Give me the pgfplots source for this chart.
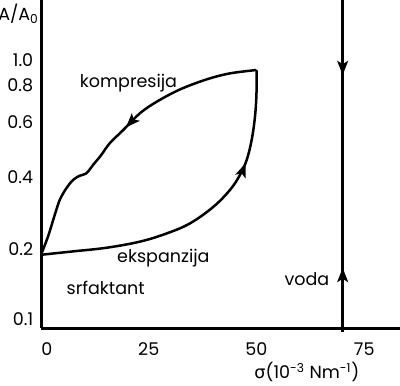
\documentclass[border=0pt]{standalone}
\usepackage{fontspec}
\setmainfont{Poppins}
\newfontfamily\greekfont{DejaVu Sans}
\usepackage{pgfplots}
\pgfplotsset{compat=1.18}
\usetikzlibrary{arrows.meta,decorations.markings}
\tikzset{myarr/.tip={Stealth[length=8.5pt,width=6.5pt,inset=2pt]}}
\begin{document}
\fontsize{10.5}{12}\selectfont
\begin{tikzpicture}
\begin{axis}[
  scale only axis, width=215.4pt, height=196.8pt,
  xmin=0, xmax=83.3, ymode=log, ymin=0.0923, ymax=1.705,
  axis x line=bottom, axis y line=left,
  axis line style={-, line width=1.8pt},
  xtick={0,25,50,75}, xticklabels={\hspace*{7pt}0,25,50,75},
  ytick={0.1,0.1864,0.3534,0.5763,0.8007,1.0},
  yticklabels={0.1,0.2,0.4,0.6,0.8,1.0},
  minor ytick={}, major tick length=0pt,
  xticklabel style={yshift=-5pt},
  yticklabel style={xshift=-1pt},
  /pgf/number format/assume math mode=true,
  clip=false,
]
% compression (upper branch), from the right corner back to the origin
\addplot[black, line width=1.5pt, smooth, tension=0.55, postaction={decorate},
  decoration={markings, mark=at position 0.48 with {\arrow{myarr}}}]
  coordinates {(50,0.915) (43.85,0.888) (38.45,0.842) (32.25,0.770) (26.84,0.690)
  (22.97,0.623) (19.1,0.537) (15.94,0.477) (13.99,0.430) (12.06,0.393) (10.51,0.365)
  (8.98,0.3575) (7.42,0.344) (5.87,0.3196) (4.34,0.288) (3.18,0.252) (1.62,0.208) (0,0.177)};
% expansion (lower branch)
\addplot[black, line width=1.5pt, smooth, tension=0.6, postaction={decorate},
  decoration={markings, mark=at position 0.715 with {\arrow{myarr}}}]
  coordinates {(0,0.177) (7.5,0.1825) (15.24,0.1885) (22.97,0.199) (29.16,0.214)
  (34.57,0.234) (39.98,0.271) (43.85,0.315) (46.17,0.360) (47.72,0.411)
  (48.88,0.491) (49.65,0.604) (50.0,0.744) (50,0.915)};
% water
\addplot[black, line width=1.5pt, postaction={decorate},
  decoration={markings,
    mark=at position 0.193 with {\arrow{myarr}},
    mark=at position 0.774 with {\arrowreversed{myarr}}}]
  coordinates {(70,0.0891) (70,1.705)};
\node at (axis cs:20.3,0.815) {kompresija};
\node at (axis cs:28.4,0.172) {ekspanzija};
\node at (axis cs:15.0,0.1318) {srfaktant};
\node at (axis cs:61.7,0.1427) {voda};
\node at (axis cs:61.7,0.0923) [yshift=-26.6pt] {{\greekfont σ}(10\textsuperscript{-3} Nm\textsuperscript{-1})};
\node at (rel axis cs:0,1) [xshift=-13.5pt, yshift=-8.4pt] {A/A\textsubscript{0}};
\end{axis}
\pgfresetboundingbox
\useasboundingbox ([xshift=-24.6pt,yshift=-34.2pt]current axis.south west) rectangle (current axis.north east);
\end{tikzpicture}
\end{document}
